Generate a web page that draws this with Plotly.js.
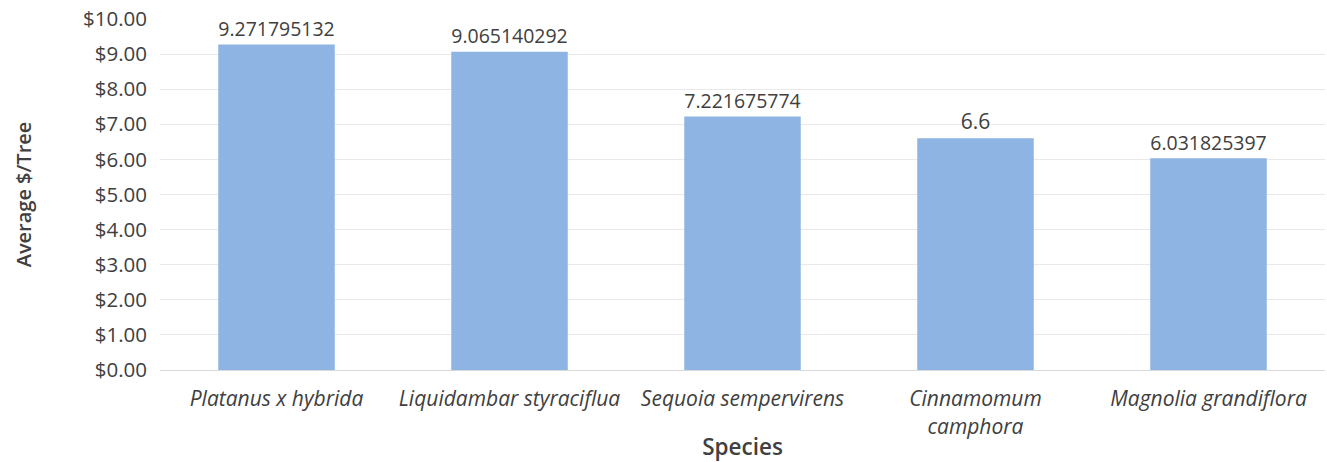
<!DOCTYPE html>
<html>
<head>
<meta charset="utf-8">
<script src="https://cdn.plot.ly/plotly-3.0.1.min.js"></script>
<style>html,body{margin:0;padding:0;background:#fff;}#chart{width:1327px;height:462px;}</style>
</head>
<body>
<div id="chart"></div>
<script>
const species = ["Platanus x hybrida", "Liquidambar styraciflua", "Sequoia sempervirens", "Cinnamomum<br>camphora", "Magnolia grandiflora"];
const avgPerTree = [9.271795132, 9.065140292, 7.221675774, 6.6, 6.031825397];
const valueLabels = ["9.271795132", "9.065140292", "7.221675774", "6.6", "6.031825397"];
const yTickVals = [0,1,2,3,4,5,6,7,8,9,10];
const yTickText = yTickVals.map(v => "$" + v.toFixed(2));

const font = "'Open Sans', Lato, sans-serif";
Plotly.newPlot("chart", [{
  type: "bar",
  x: species,
  y: avgPerTree,
  text: valueLabels,
  textposition: "outside",
  cliponaxis: false,
  textfont: {family: font, size: 21, color: "#404040"},
  marker: {color: "#8EB4E3"},
  hoverinfo: "x+y"
}], {
  width: 1327, height: 462,
  margin: {l: 160, r: 2, t: 19, b: 92},
  paper_bgcolor: "#fff", plot_bgcolor: "#fff",
  bargap: 0.5,
  showlegend: false,
  font: {family: font, color: "#404040", size: 18},
  xaxis: {
    tickfont: {family: font, size: 21, color: "#404040", style: "italic"},
    showline: true, linecolor: "#D9D9D9", linewidth: 1,
    ticks: "", ticklabelstandoff: 10,
    title: {text: "Species", font: {family: font, size: 22.5, color: "#404040", weight: 600}, standoff: 10}
  },
  yaxis: {
    range: [0, 10],
    tickvals: yTickVals, ticktext: yTickText,
    tickfont: {family: font, size: 20.5, color: "#404040"},
    gridcolor: "#E9E9E9", gridwidth: 1,
    zeroline: false,
    ticks: "", ticklabelstandoff: 12,
    title: {text: "Average $/Tree", font: {family: font, size: 20, color: "#404040", weight: 600}, standoff: 46}
  }
}, {staticPlot: true});
</script>
</body>
</html>
